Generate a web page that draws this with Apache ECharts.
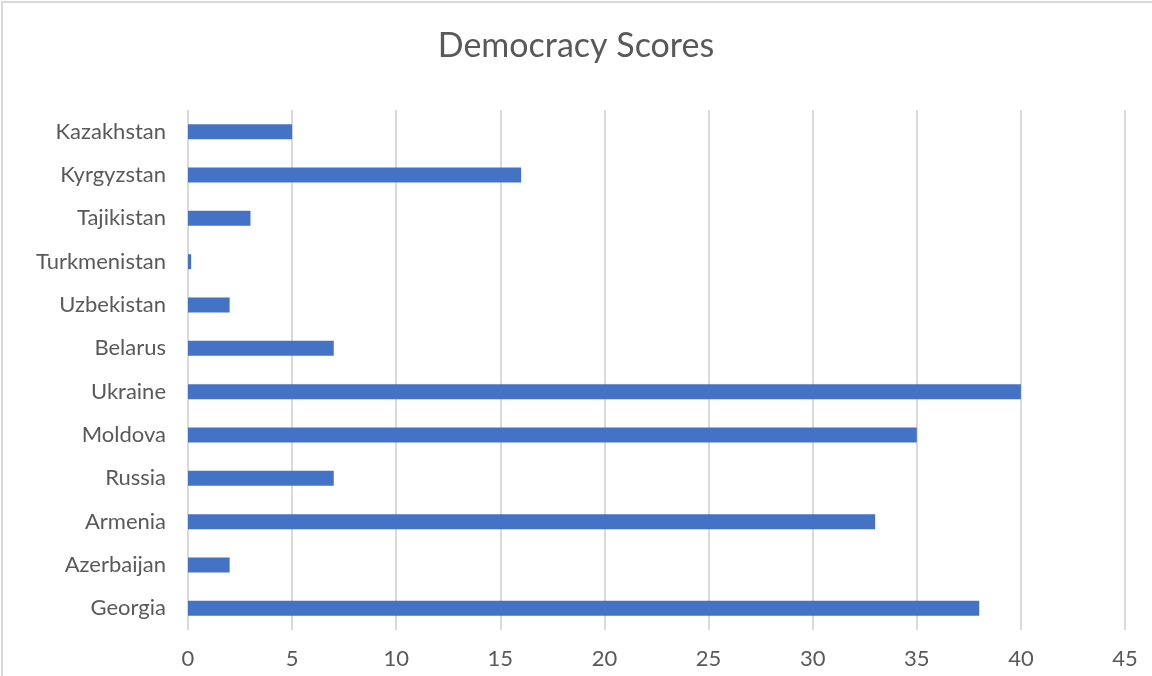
<!DOCTYPE html>
<html>
<head>
<meta charset="utf-8">
<script src="https://cdn.jsdelivr.net/npm/echarts@6/dist/echarts.min.js"></script>
<style>
html,body{margin:0;padding:0;background:#fff;}
#wrap{position:absolute;left:0;top:0;width:1152px;height:676px;overflow:hidden;}
#border{position:absolute;left:1px;top:1px;width:1200px;height:700px;border-left:2px solid #d9d9d9;border-top:2px solid #d9d9d9;box-sizing:border-box;}
#chart{position:absolute;left:0;top:0;width:1152px;height:676px;}
</style>
</head>
<body>
<div id="wrap"><div id="border"></div><div id="chart"></div></div>
<script>
const categories = ["Georgia","Azerbaijan","Armenia","Russia","Moldova","Ukraine","Belarus","Uzbekistan","Turkmenistan","Tajikistan","Kyrgyzstan","Kazakhstan"];
const scores = [38, 2, 33, 7, 35, 40, 7, 2, 0.15, 3, 16, 5];
const titleText = "Democracy Scores";

const FONT = "Lato, 'Open Sans', sans-serif";
const chart = echarts.init(document.getElementById('chart'), null, {renderer:'canvas'});
chart.setOption({
  animation:false,
  backgroundColor:'transparent',
  title:{
    text:titleText, left:'center', top:24,
    textStyle:{fontFamily:FONT, fontSize:34, fontWeight:'normal', color:'#595959'}
  },
  grid:{left:188, right:27, top:110, bottom:46, containLabel:false},
  xAxis:{
    type:'value', min:0, max:45, interval:5,
    axisLine:{show:false}, axisTick:{show:false},
    splitLine:{lineStyle:{color:'#d9d9d9', width:2}},
    axisLabel:{fontFamily:FONT, fontSize:22, color:'#595959', margin:18}
  },
  yAxis:{
    type:'category', data:categories,
    axisLine:{show:false}, axisTick:{show:false},
    axisLabel:{fontFamily:FONT, fontSize:22, color:'#595959', margin:22}
  },
  series:[{
    type:'bar', data:scores, barWidth:15,
    itemStyle:{color:'#4472c4'}
  }]
});
</script>
</body>
</html>
